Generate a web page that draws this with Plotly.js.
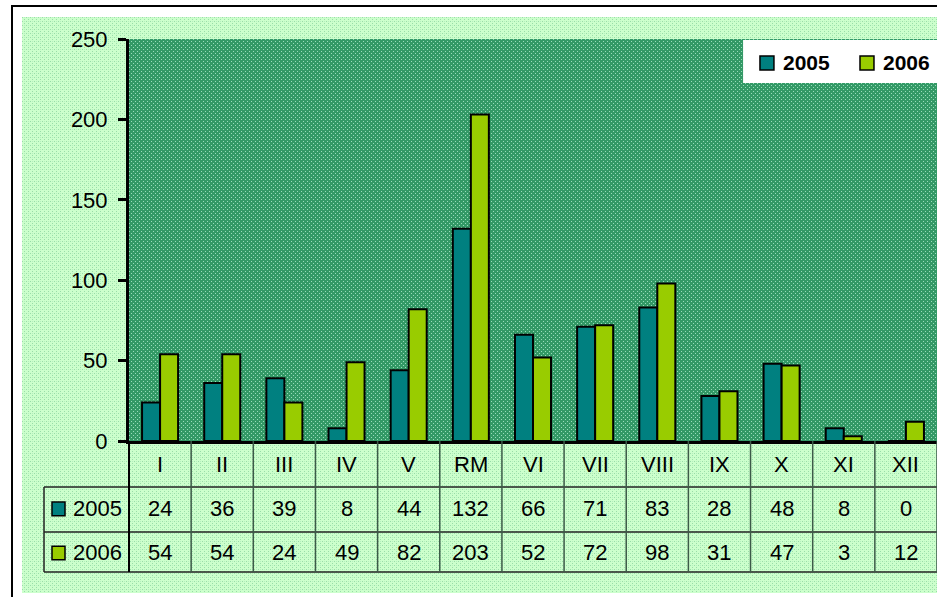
<!DOCTYPE html>
<html>
<head>
<meta charset="utf-8">
<script src="https://cdn.plot.ly/plotly-3.0.1.min.js"></script>
<style>
  html, body { margin:0; padding:0; overflow:hidden; background:#ffffff; width:937px; height:597px; }
  #frame { position:absolute; left:11px; top:5px; width:1000px; height:1000px; border:2px solid #000; box-sizing:border-box; }
  #bg { position:absolute; left:22px; top:17px; width:1000px; height:576px; background-color:#C6F5CA;
        background-image:url("data:image/svg+xml;utf8,<svg xmlns='http://www.w3.org/2000/svg' width='4' height='4'><rect width='4' height='4' fill='%23CCFFCC'/><rect x='0' y='0' width='1' height='1' fill='%2399DDA8'/><rect x='2' y='2' width='1' height='1' fill='%2399DDA8'/><rect x='2' y='0' width='1' height='1' fill='%23B5EEBE'/></svg>"); }
  #plotbg { position:absolute; left:129px; top:39px; width:808px; height:402px; background-color:#3FA272;
        background-image:url("data:image/svg+xml;utf8,<svg xmlns='http://www.w3.org/2000/svg' width='4' height='4'><rect width='4' height='4' fill='%23339966'/><rect x='0' y='0' width='1' height='1' fill='%2399DDBB'/><rect x='2' y='2' width='1' height='1' fill='%2399DDBB'/></svg>"); }
  #chart { position:absolute; left:0; top:0; width:937px; height:597px; }
</style>
</head>
<body>
<div id="frame"></div>
<div id="bg"></div>
<div id="plotbg"></div>
<div id="chart"></div>
<script>
const categories = ["I","II","III","IV","V","RM","VI","VII","VIII","IX","X","XI","XII"];
const seriesNames = ["2005","2006"];
const values2005 = [24,36,39,8,44,132,66,71,83,28,48,8,0];
const values2006 = [54,54,24,49,82,203,52,72,98,31,47,3,12];
const yTicks = [0,50,100,150,200,250];

const colors = ["#008080","#99CC00"];
const FONT = "Liberation Sans, Arial, sans-serif";
const textFont = {family: FONT, size: 22, color: "#000"};
const legendFont = {family: FONT, size: 21, color: "#000", weight: "bold"};

// table geometry in paper coordinates (plot area: x 129..937, y 39..441)
const rowLines = [-0.1144, -0.2264, -0.3259];
const rowCenters = [-0.0597, -0.169, -0.2786];
const labelColLeft = -0.1052;

const shapes = [];
const annotations = [];
// horizontal table lines
rowLines.forEach(y => shapes.push({type:"line", xref:"paper", yref:"paper", x0:labelColLeft, x1:1, y0:y, y1:y, line:{color:"#222", width:1.5}}));
// left border of label column
shapes.push({type:"line", xref:"paper", yref:"paper", x0:labelColLeft, x1:labelColLeft, y0:rowLines[0], y1:rowLines[2], line:{color:"#222", width:1.5}});
// vertical category separators
const n = categories.length;
for (let i = 0; i <= n; i++) {
  const px = i / n;
  shapes.push({type:"line", xref:"paper", yref:"paper", x0:px, x1:px, y0:0, y1:rowLines[2],
    line:{color: i === 0 ? "#000" : "#3c5a48", width: i === 0 ? 2 : 1.5}});
}
// category labels and values
categories.forEach((c, i) => {
  annotations.push({xref:"x", yref:"paper", x:c, y:rowCenters[0], text:c, showarrow:false, font:textFont, yanchor:"middle"});
  annotations.push({xref:"x", yref:"paper", x:c, y:rowCenters[1], text:String(values2005[i]), showarrow:false, font:textFont, yanchor:"middle"});
  annotations.push({xref:"x", yref:"paper", x:c, y:rowCenters[2], text:String(values2006[i]), showarrow:false, font:textFont, yanchor:"middle"});
});
// row labels with legend keys
[1,2].forEach((r, k) => {
  const yc = rowCenters[r];
  shapes.push({type:"rect", xref:"paper", yref:"paper", x0:-0.0953, x1:-0.0792, y0:yc-0.017, y1:yc+0.017,
    fillcolor:colors[k], line:{color:"#000", width:1.5}});
  annotations.push({xref:"paper", yref:"paper", x:-0.0715, y:yc, text:seriesNames[k], showarrow:false,
    font:textFont, xanchor:"left", yanchor:"middle"});
});
// legend box (top right)
shapes.push({type:"rect", xref:"paper", yref:"paper", x0:0.760, x1:1.01, y0:0.8905, y1:0.9975,
  fillcolor:"#ffffff", line:{width:0}});
const legendKeyX = [0.7809, 0.9047];
seriesNames.forEach((s, k) => {
  shapes.push({type:"rect", xref:"paper", yref:"paper", x0:legendKeyX[k], x1:legendKeyX[k]+0.0173, y0:0.9229, y1:0.9577,
    fillcolor:colors[k], line:{color:"#000", width:1.5}});
  annotations.push({xref:"paper", yref:"paper", x:legendKeyX[k]+0.0263, y:0.9403, text:s, showarrow:false,
    font:legendFont, xanchor:"left", yanchor:"middle"});
});

const traces = [
  {type:"bar", name:seriesNames[0], x:categories, y:values2005, marker:{color:colors[0], line:{color:"#000", width:2}}},
  {type:"bar", name:seriesNames[1], x:categories, y:values2006, marker:{color:colors[1], line:{color:"#000", width:2}}}
];

const layout = {
  width:937, height:597,
  margin:{l:129, r:0, t:39, b:156, pad:0},
  paper_bgcolor:"rgba(0,0,0,0)",
  plot_bgcolor:"rgba(0,0,0,0)",
  barmode:"group", bargap:0.42, bargroupgap:0,
  showlegend:false,
  xaxis:{type:"category", range:[-0.5, n-0.5], showline:true, linecolor:"#000", linewidth:3,
    showticklabels:false, ticks:"", showgrid:false, zeroline:false, fixedrange:true},
  yaxis:{range:[0,250], tickvals:yTicks, showline:true, linecolor:"#000", linewidth:3,
    ticks:"outside", ticklen:8, tickwidth:3, tickcolor:"#000", showgrid:false, zeroline:false,
    tickfont:textFont, ticklabelstandoff:6, fixedrange:true},
  shapes:shapes,
  annotations:annotations,
  font:{family:FONT}
};

Plotly.newPlot("chart", traces, layout, {displayModeBar:false, staticPlot:true});
</script>
</body>
</html>
